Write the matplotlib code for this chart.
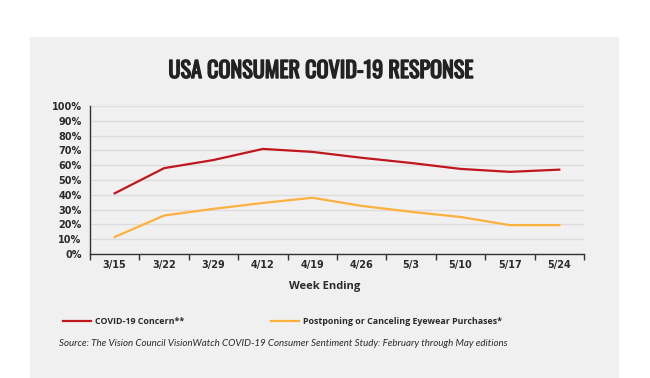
import matplotlib
matplotlib.use('Agg')
import matplotlib.pyplot as plt
from matplotlib import font_manager
from matplotlib import patheffects
from matplotlib.lines import Line2D
from matplotlib.patches import Rectangle

weeks = ['3/15', '3/22', '3/29', '4/12', '4/19', '4/26', '5/3', '5/10', '5/17', '5/24']
concern = [41, 58, 63.5, 71, 69, 65, 61.5, 57.5, 55.5, 57]
postponing = [11.5, 26, 30.5, 34.5, 38, 32.5, 28.5, 25, 19.5, 19.5]
y_ticks = list(range(0, 101, 10))
y_labels = [f'{v}%' for v in y_ticks]

title = 'USA CONSUMER COVID-19 RESPONSE'
xlabel = 'Week Ending'
legend_labels = ['COVID-19 Concern**', 'Postponing or Canceling Eyewear Purchases*']
source = 'Source: The Vision Council VisionWatch COVID-19 Consumer Sentiment Study: February through May editions'

RED = '#c1161e'
ORANGE = '#fdb13c'
PANEL = '#f0f0f0'
TEXT = '#2b2b2b'

# pick a condensed font for the title if one exists
installed = {f.name for f in font_manager.fontManager.ttflist}
title_font = 'DejaVu Sans'
for name in ['Oswald', 'Roboto Condensed', 'Liberation Sans Narrow', 'DejaVu Sans Condensed']:
    if name in installed:
        title_font = name
        break

W, H = 650, 378
fig = plt.figure(figsize=(W / 100, H / 100), dpi=100)
fig.patch.set_facecolor('white')

# grey panel behind the chart
fig.patches.append(Rectangle((30 / W, 0), 589 / W, (H - 37) / H, transform=fig.transFigure,
                             facecolor=PANEL, edgecolor='none', zorder=-5))

ax = fig.add_axes([90 / W, (H - 254) / H, 494 / W, 148 / H])
ax.set_facecolor(PANEL)
x = list(range(len(weeks)))
ax.plot(x, concern, color=RED, lw=1.6, zorder=3)
ax.plot(x, postponing, color=ORANGE, lw=1.6, zorder=3)

ax.set_xlim(-0.5, len(weeks) - 0.5)
ax.set_ylim(0, 100)
ax.set_yticks(y_ticks)
ax.set_yticklabels(y_labels)
ax.set_xticks(x)
ax.set_xticklabels(weeks)
ax.set_xticks([i - 0.5 for i in range(len(weeks) + 1)], minor=True)
ax.tick_params(axis='x', which='major', length=0, pad=4)
ax.tick_params(axis='x', which='minor', length=4, width=1, color='#333333', direction='out')
ax.tick_params(axis='y', length=0, pad=6)
for lab in ax.get_xticklabels() + ax.get_yticklabels():
    lab.set_fontsize(7)
    lab.set_fontweight('bold')
    lab.set_color(TEXT)

ax.grid(axis='y', color='#dcdcdc', lw=1)
ax.set_axisbelow(True)
for s in ['top', 'right']:
    ax.spines[s].set_visible(False)
for s in ['left', 'bottom']:
    ax.spines[s].set_color('#333333')
    ax.spines[s].set_linewidth(1)

fig.text(321 / W, 1 - 71 / H, title, ha='center', va='center', fontsize=16,
         fontweight='bold', family=title_font, color='#222222',
         path_effects=[patheffects.withStroke(linewidth=1.0, foreground='#222222')])
fig.text(325 / W, 1 - 287 / H, xlabel, ha='center', va='center', fontsize=8,
         fontweight='bold', family='Open Sans', color=TEXT)

# legend drawn in figure coordinates
ly = 1 - 321 / H
fig.add_artist(Line2D([63 / W, 91 / W], [ly, ly], color=RED, lw=1.6, transform=fig.transFigure))
fig.text(95 / W, ly, legend_labels[0], ha='left', va='center', fontsize=6.4,
         fontweight='bold', family='Open Sans', color=TEXT)
fig.add_artist(Line2D([271 / W, 299 / W], [ly, ly], color=ORANGE, lw=1.6, transform=fig.transFigure))
fig.text(303 / W, ly, legend_labels[1], ha='left', va='center', fontsize=6.4,
         fontweight='bold', family='Open Sans', color=TEXT)

fig.text(283 / W, 1 - 344 / H, source, ha='center', va='center', fontsize=7,
         style='italic', family='Lato', color=TEXT)

fig.savefig('out.png', dpi=100, facecolor='white')
